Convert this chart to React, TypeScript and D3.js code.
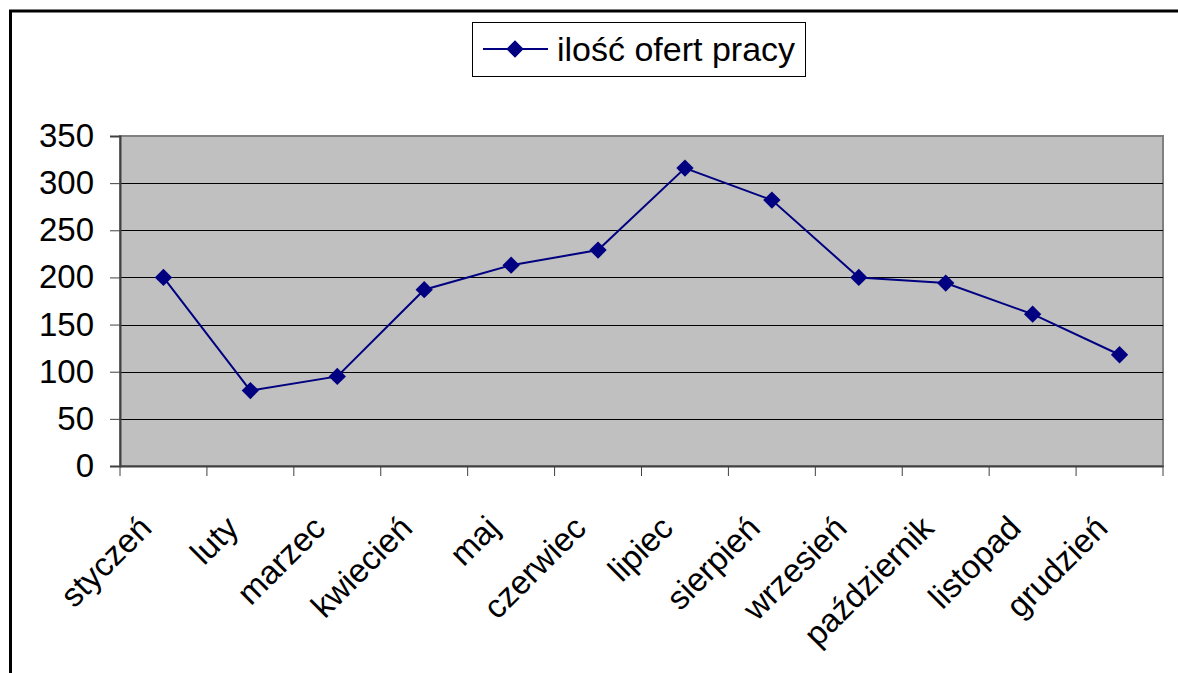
import React, { useRef, useEffect } from "react";
import { select, scaleBand, scaleLinear, axisLeft, axisBottom, line, symbol, symbolSquare } from "d3";

const months = [
  "styczeń", "luty", "marzec", "kwiecień", "maj", "czerwiec",
  "lipiec", "sierpień", "wrzesień", "październik", "listopad", "grudzień",
];
const offers = [200, 80, 95, 187, 213, 229, 316, 282, 200, 194, 161, 118];
const yTicks = [0, 50, 100, 150, 200, 250, 300, 350];
const seriesName = "ilość ofert pracy";

function App() {
  const svgRef = useRef<SVGSVGElement>(null);

  useEffect(() => {
    const svg = select(svgRef.current);
    svg.selectAll("*").remove();

    const left = 120, right = 1163, top = 136, bottom = 466;
    const font = "Arial, 'Liberation Sans', sans-serif";
    const fontSize = 33;

    const x = scaleBand<string>().domain(months).range([left, right]);
    const y = scaleLinear().domain([0, 350]).range([bottom, top]);

    // outer chart frame
    svg.append("rect")
      .attr("x", 10.5).attr("y", 11).attr("width", 1175).attr("height", 680)
      .attr("fill", "white").attr("stroke", "black").attr("stroke-width", 3);

    // plot area
    svg.append("rect")
      .attr("x", left).attr("y", top).attr("width", right - left).attr("height", bottom - top)
      .attr("fill", "#c0c0c0").attr("stroke", "#808080").attr("stroke-width", 2);

    // gridlines
    svg.append("g")
      .selectAll("line")
      .data(yTicks.filter((d) => d > 0 && d < 350))
      .join("line")
      .attr("x1", left).attr("x2", right)
      .attr("y1", (d) => Math.round(y(d)) + 0.5).attr("y2", (d) => Math.round(y(d)) + 0.5)
      .attr("stroke", "black").attr("stroke-width", 1);

    // y axis
    const yAxis = svg.append("g")
      .attr("transform", `translate(${left},0)`)
      .call(axisLeft(y).tickValues(yTicks).tickSize(10).tickPadding(16));
    yAxis.select(".domain").attr("stroke", "#404040").attr("stroke-width", 2);
    yAxis.selectAll(".tick line").attr("stroke", "#404040");
    yAxis.selectAll(".tick text")
      .attr("font-family", font).attr("font-size", fontSize).attr("fill", "black");

    // x axis
    const xAxis = svg.append("g")
      .attr("transform", `translate(0,${bottom})`)
      .call(axisBottom(x).tickSize(0).tickFormat(() => ""));
    xAxis.select(".domain").attr("stroke", "#404040").attr("stroke-width", 2);

    // category boundary ticks
    svg.append("g")
      .selectAll("line")
      .data(months.concat(["end"]))
      .join("line")
      .attr("x1", (d, i) => left + i * x.bandwidth())
      .attr("x2", (d, i) => left + i * x.bandwidth())
      .attr("y1", bottom).attr("y2", bottom + 10)
      .attr("stroke", "#404040").attr("stroke-width", 1);

    // rotated category labels
    svg.append("g")
      .selectAll("text")
      .data(months)
      .join("text")
      .attr("transform", (d) => `translate(${x(d)! + x.bandwidth() / 2 - 10},${bottom + 64}) rotate(-45)`)
      .attr("text-anchor", "end")
      .attr("font-family", font).attr("font-size", fontSize)
      .text((d) => d);

    // series line
    const lineGen = line<number>()
      .x((d, i) => x(months[i])! + x.bandwidth() / 2)
      .y((d) => y(d));
    svg.append("path")
      .datum(offers)
      .attr("d", lineGen)
      .attr("fill", "none").attr("stroke", "#000080").attr("stroke-width", 2);

    // square diamonds (rotated squares)
    const marker = symbol().type(symbolSquare).size(150);
    svg.append("g")
      .selectAll("path")
      .data(offers)
      .join("path")
      .attr("transform", (d, i) => `translate(${x(months[i])! + x.bandwidth() / 2},${y(d)}) rotate(45)`)
      .attr("d", marker)
      .attr("fill", "#000080");

    // legend
    const legend = svg.append("g");
    legend.append("rect")
      .attr("x", 472.5).attr("y", 22.5).attr("width", 333).attr("height", 54)
      .attr("fill", "white").attr("stroke", "black").attr("stroke-width", 1);
    legend.append("line")
      .attr("x1", 483).attr("x2", 548).attr("y1", 49).attr("y2", 49)
      .attr("stroke", "#000080").attr("stroke-width", 2);
    legend.append("path")
      .attr("transform", "translate(515,49) rotate(45)")
      .attr("d", marker)
      .attr("fill", "#000080");
    legend.append("text")
      .attr("x", 557).attr("y", 61)
      .attr("font-family", font).attr("font-size", 34)
      .text(seriesName);
  }, []);

  return (
    <svg
      ref={svgRef}
      width={1178}
      height={673}
      style={{ position: "absolute", left: 0, top: 0, display: "block" }}
    ></svg>
  );
}

export default App;
